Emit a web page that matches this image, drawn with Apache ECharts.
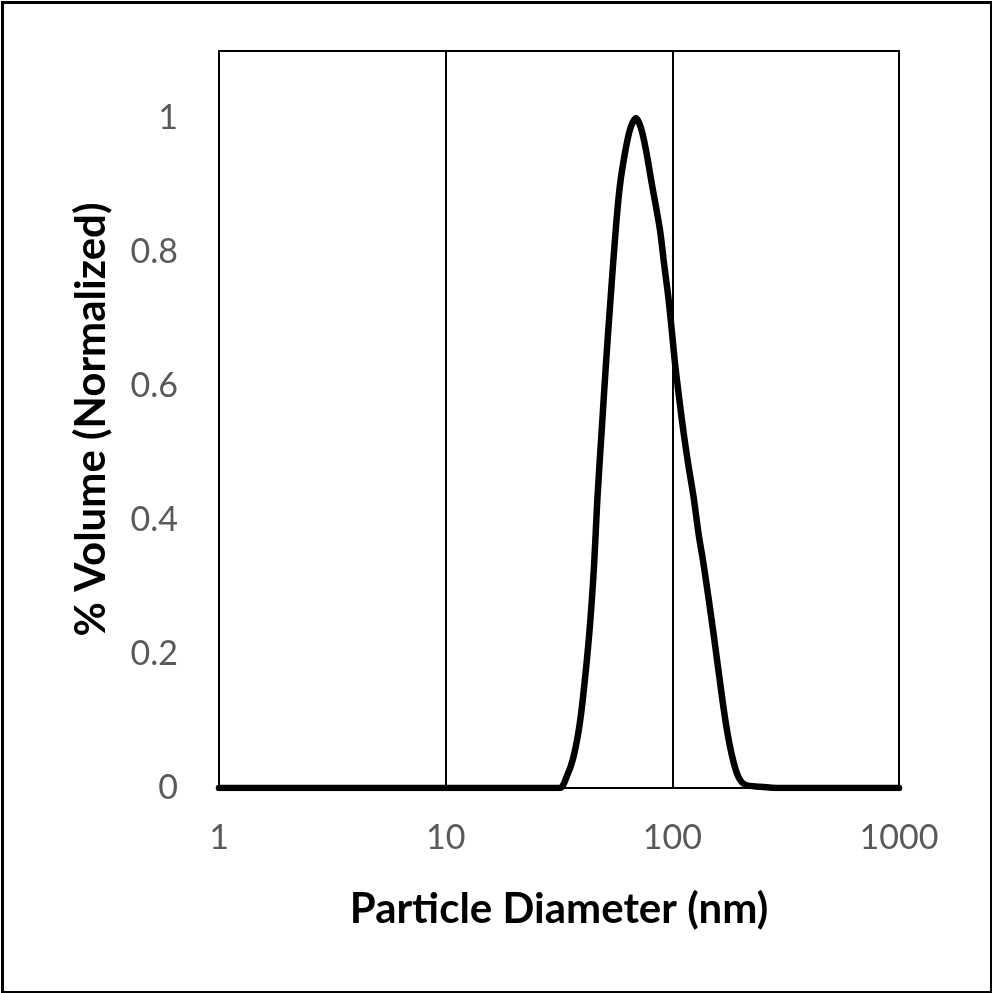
<!DOCTYPE html>
<html>
<head>
<meta charset="utf-8">
<script src="https://cdn.jsdelivr.net/npm/echarts@6/dist/echarts.min.js"></script>
<style>
html,body{margin:0;padding:0;background:#fff;}
#chart{width:992px;height:993px;}
</style>
</head>
<body>
<div id="chart"></div>
<script>
const diameters = [1, 10, 28, 31.95, 34.2, 36.35, 38.47, 40.23, 43.02, 45.12, 46.67, 48.8, 50.97, 53.46, 56.26, 58.76, 62.13, 65.37, 69.14, 72.72, 76.51, 81.07, 88.21, 91.9, 95.98, 99.36, 102.73, 106.99, 111.75, 117.3, 124.0, 130.47, 137.95, 151.9, 166.4, 175.1, 185.2, 195.4, 209.2, 243.6, 298.5, 1000];
const volumes   = [0, 0, 0, 0, 0.017, 0.042, 0.082, 0.131, 0.231, 0.33, 0.43, 0.534, 0.634, 0.733, 0.833, 0.9, 0.952, 0.985, 1.0, 0.985, 0.952, 0.903, 0.833, 0.783, 0.733, 0.684, 0.634, 0.584, 0.534, 0.485, 0.435, 0.38, 0.33, 0.231, 0.131, 0.082, 0.042, 0.017, 0.005, 0.002, 0, 0];
const xTickLabels = ['1', '10', '100', '1000'];
const xTitle = 'Particle Diameter (nm)';
const yTitle = '% Volume (Normalized)';

const chart = echarts.init(document.getElementById('chart'), null, {renderer: 'canvas'});
chart.setOption({
  animation: false,
  backgroundColor: '#fff',
  graphic: [{
    type: 'rect', left: 0, top: 0, z: 100, silent: true,
    shape: {x: 1.5, y: 1.5, width: 989, height: 990},
    style: {fill: 'none', stroke: '#000', lineWidth: 3}
  }],
  grid: {left: 219, right: 93, top: 51, bottom: 205, show: true, borderColor: '#000', borderWidth: 2, backgroundColor: 'transparent'},
  xAxis: {
    type: 'log', logBase: 10, min: 1, max: 1000,
    name: xTitle, nameLocation: 'middle', nameGap: 100,
    nameTextStyle: {fontFamily: 'Lato', fontWeight: 'bold', fontSize: 42, color: '#000'},
    axisLine: {show: true, lineStyle: {color: '#000', width: 2}},
    axisTick: {show: false},
    axisLabel: {
      fontFamily: 'Lato', fontSize: 34, color: '#595959', margin: 33,
      formatter: function (v) {
        const idx = Math.round(Math.log10(v));
        return xTickLabels[idx] !== undefined ? xTickLabels[idx] : String(v);
      }
    },
    splitLine: {show: true, lineStyle: {color: '#000', width: 2}},
    minorSplitLine: {show: false}
  },
  yAxis: {
    type: 'value', min: 0, max: 1.1, interval: 0.2,
    name: yTitle, nameLocation: 'middle', nameGap: 107, nameRotate: 90,
    nameTextStyle: {fontFamily: 'Lato', fontWeight: 'bold', fontSize: 42, color: '#000'},
    axisLine: {show: true, lineStyle: {color: '#000', width: 2}},
    axisTick: {show: false},
    axisLabel: {fontFamily: 'Lato', fontSize: 34, color: '#595959', margin: 41, showMaxLabel: false},
    splitLine: {show: false}
  },
  series: [{
    type: 'line',
    data: diameters.map((d, i) => [d, volumes[i]]),
    showSymbol: false,
    smooth: 0.3,
    lineStyle: {color: '#000', width: 6.5, join: 'round', cap: 'round'},
    z: 5
  }]
});
</script>
</body>
</html>
